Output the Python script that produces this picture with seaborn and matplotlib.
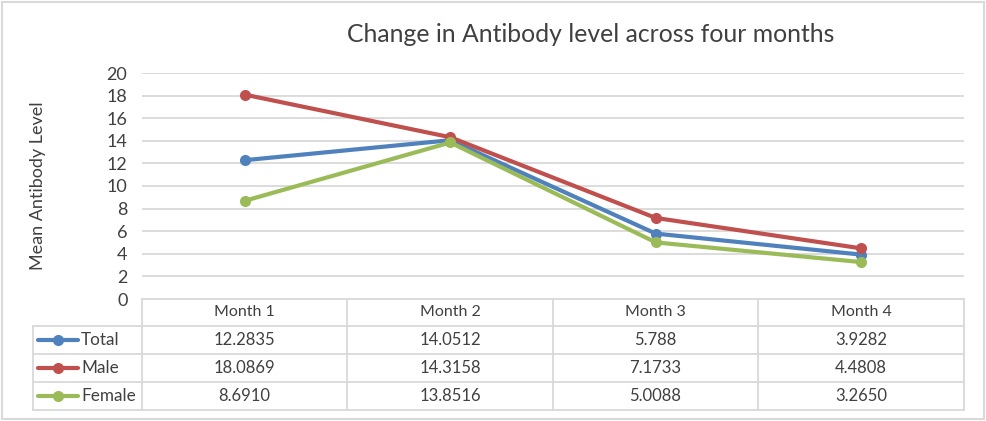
import pandas as pd
import numpy as np
import matplotlib.pyplot as plt
import seaborn as sns
from matplotlib.lines import Line2D

months = ['Month 1', 'Month 2', 'Month 3', 'Month 4']
series = ['Total', 'Male', 'Female']
total = [12.2835, 14.0512, 5.788, 3.9282]
male = [18.0869, 14.3158, 7.1733, 4.4808]
female = [8.6910, 13.8516, 5.0088, 3.2650]
# labels as shown in the data table
total_lbl = ['12.2835', '14.0512', '5.788', '3.9282']
male_lbl = ['18.0869', '14.3158', '7.1733', '4.4808']
female_lbl = ['8.6910', '13.8516', '5.0088', '3.2650']
colors = {'Total': '#4F81BD', 'Male': '#C0504D', 'Female': '#9BBB59'}

df = pd.DataFrame({
    'month': months * 3,
    'x': list(range(4)) * 3,
    'value': total + male + female,
    'series': ['Total'] * 4 + ['Male'] * 4 + ['Female'] * 4,
})

sns.set_style('white')
plt.rcParams['font.family'] = ['Lato', 'DejaVu Sans']
txt = '#404040'
grid = '#D9D9D9'

W, H = 986, 421
fig = plt.figure(figsize=(W / 100, H / 100), dpi=100)

def fx(px):
    return px / W

def fy(py):
    return 1 - py / H

ax = fig.add_axes([fx(142), fy(299), fx(964) - fx(142), fy(73) - fy(299)])
sns.lineplot(data=df, x='x', y='value', hue='series', palette=colors,
             marker='o', markersize=8, markeredgewidth=0, linewidth=3,
             legend=False, ax=ax)
ax.set_xlim(-0.5, 3.5)
ax.set_ylim(0, 20)
ax.set_yticks(range(0, 21, 2))
ax.set_xticks([])
ax.set_xlabel('')
ax.set_ylabel('Mean Antibody Level', fontsize=13, color=txt)
ax.yaxis.set_label_coords((38 - 142) / (964 - 142), 0.5)
ax.yaxis.label.set_va('center')
for y in range(2, 21, 2):
    ax.axhline(y, color=grid, lw=1.3, zorder=0)
for s in ax.spines.values():
    s.set_visible(False)
ax.tick_params(axis='y', length=0, labelsize=13, labelcolor=txt, pad=10.5)

fig.text(fx(591), fy(35), 'Change in Antibody level across four months',
         ha='center', va='center', fontsize=17.8, color=txt)

# data table below the plot
rows_y = [299, 326, 354, 382, 410]
col_x = [142, 347, 553, 758, 964]
lw = 1.3
fig.add_artist(Line2D([fx(142), fx(964)], [fy(299), fy(299)], color=grid, lw=lw))
for py in rows_y[1:]:
    fig.add_artist(Line2D([fx(33), fx(964)], [fy(py), fy(py)], color=grid, lw=lw))
for px in col_x:
    fig.add_artist(Line2D([fx(px), fx(px)], [fy(299), fy(410)], color=grid, lw=lw))
fig.add_artist(Line2D([fx(33), fx(33)], [fy(326), fy(410)], color=grid, lw=lw))

# outer chart border
fig.add_artist(plt.Rectangle((fx(2), fy(419)), fx(982), fy(2) - fy(419),
                             fill=False, edgecolor='#D9D9D9', lw=1.5))

for i, m in enumerate(months):
    cx = (col_x[i] + col_x[i + 1]) / 2
    fig.text(fx(cx), fy(312.5), m, ha='center', va='center', fontsize=11.5, color=txt)

labels = [total_lbl, male_lbl, female_lbl]
for r, name in enumerate(series):
    cy = (rows_y[r + 1] + rows_y[r + 2]) / 2
    fig.add_artist(Line2D([fx(38), fx(78)], [fy(cy), fy(cy)], color=colors[name], lw=3))
    fig.add_artist(Line2D([fx(57.5)], [fy(cy)], color=colors[name], marker='o',
                          markersize=8, markeredgewidth=0))
    fig.text(fx(81), fy(cy), name, ha='left', va='center', fontsize=12.3, color=txt)
    for i in range(4):
        cx = (col_x[i] + col_x[i + 1]) / 2
        fig.text(fx(cx), fy(cy), labels[r][i], ha='center', va='center',
                 fontsize=12, color=txt)

fig.savefig('out.png', dpi=100)
